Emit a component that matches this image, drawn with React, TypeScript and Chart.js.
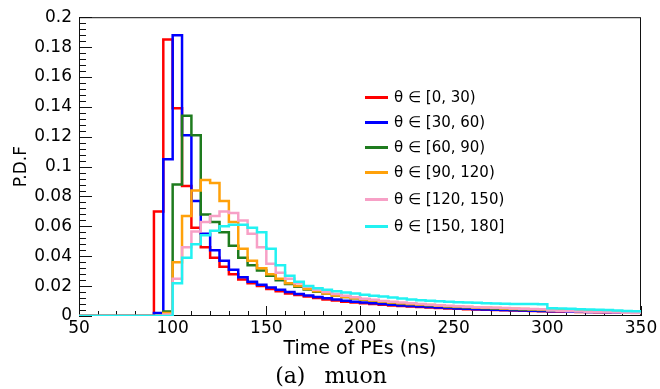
import React, { useEffect, useRef } from 'react';
import { Chart, registerables } from 'chart.js';

Chart.register(...registerables);

// Bin lower edges (ns), bin width 5 ns, histogram ends at 350 ns
const BIN_STARTS = [
  50, 55, 60, 65, 70, 75, 80, 85, 90, 95,
  100, 105, 110, 115, 120, 125, 130, 135, 140, 145,
  150, 155, 160, 165, 170, 175, 180, 185, 190, 195,
  200, 205, 210, 215, 220, 225, 230, 235, 240, 245,
  250, 255, 260, 265, 270, 275, 280, 285, 290, 295,
  300, 305, 310, 315, 320, 325, 330, 335, 340, 345,
];
const X_END = 350;

const X_TICKS = [50, 100, 150, 200, 250, 300, 350];

const LABELS = [
  'θ ∈ [0, 30)',
  'θ ∈ [30, 60)',
  'θ ∈ [60, 90)',
  'θ ∈ [90, 120)',
  'θ ∈ [120, 150)',
  'θ ∈ [150, 180]',
];

const COLORS = ['#ff0000', '#0000ff', '#1e7b1e', '#ffa10a', '#f7a0c6', '#22f2f2'];

const RED = [
  0, 0, 0, 0, 0, 0, 0, 0, 0.070, 0.185,
  0.139, 0.087, 0.059, 0.046, 0.039, 0.033, 0.028, 0.0245, 0.022, 0.020,
  0.018, 0.0165, 0.015, 0.014, 0.013, 0.012, 0.011, 0.0103, 0.0096, 0.009,
  0.0085, 0.008, 0.0075, 0.0071, 0.0067, 0.0063, 0.006, 0.0057, 0.0054, 0.0051,
  0.0049, 0.0046, 0.0044, 0.0042, 0.004, 0.0038, 0.0036, 0.0035, 0.0033, 0.0032,
  0.003, 0.0029, 0.0028, 0.0027, 0.0026, 0.0025, 0.0024, 0.0023, 0.0022, 0.0021,
];

const BLUE = [
  0, 0, 0, 0, 0, 0, 0, 0, 0.002, 0.105,
  0.188, 0.121, 0.077, 0.055, 0.044, 0.037, 0.031, 0.026, 0.023, 0.021,
  0.019, 0.0175, 0.016, 0.0148, 0.0137, 0.0127, 0.0118, 0.011, 0.0102, 0.0095,
  0.009, 0.0085, 0.008, 0.0075, 0.0071, 0.0067, 0.0063, 0.006, 0.0057, 0.0054,
  0.0051, 0.0049, 0.0046, 0.0044, 0.0042, 0.004, 0.0038, 0.0037, 0.0035, 0.0033,
  0.0032, 0.0031, 0.0029, 0.0028, 0.0027, 0.0026, 0.0025, 0.0024, 0.0023, 0.0022,
];

const GREEN = [
  0, 0, 0, 0, 0, 0, 0, 0, 0, 0.003,
  0.088, 0.134, 0.121, 0.068, 0.063, 0.056, 0.047, 0.039, 0.034, 0.0305,
  0.027, 0.024, 0.0215, 0.0195, 0.0178, 0.0163, 0.015, 0.0138, 0.0127, 0.0118,
  0.011, 0.0103, 0.0096, 0.009, 0.0085, 0.008, 0.0076, 0.0072, 0.0068, 0.0064,
  0.0061, 0.0058, 0.0055, 0.0052, 0.005, 0.0048, 0.0046, 0.0044, 0.0042, 0.004,
  0.0038, 0.0036, 0.0035, 0.0033, 0.0032, 0.003, 0.0029, 0.0028, 0.0027, 0.0026,
];

const ORANGE = [
  0, 0, 0, 0, 0, 0, 0, 0, 0, 0.002,
  0.036, 0.067, 0.084, 0.091, 0.089, 0.077, 0.063, 0.045, 0.037, 0.032,
  0.028, 0.025, 0.022, 0.020, 0.018, 0.0165, 0.015, 0.0138, 0.0128, 0.0119,
  0.011, 0.0103, 0.0097, 0.0091, 0.0086, 0.0081, 0.0077, 0.0073, 0.0069, 0.0066,
  0.0063, 0.006, 0.0057, 0.0055, 0.0053, 0.0051, 0.0049, 0.0047, 0.0045, 0.0043,
  0.0041, 0.0039, 0.0037, 0.0035, 0.0033, 0.0031, 0.003, 0.0028, 0.0027, 0.0026,
];

const PINK = [
  0, 0, 0, 0, 0, 0, 0, 0, 0, 0.001,
  0.025, 0.046, 0.0565, 0.063, 0.067, 0.070, 0.069, 0.064, 0.055, 0.046,
  0.035, 0.029, 0.025, 0.022, 0.0195, 0.0175, 0.016, 0.0147, 0.0136, 0.0126,
  0.0115, 0.0108, 0.0101, 0.0095, 0.009, 0.0085, 0.008, 0.0076, 0.0072, 0.0068,
  0.0065, 0.0062, 0.0059, 0.0057, 0.0055, 0.0053, 0.0051, 0.0049, 0.0047, 0.0045,
  0.0036, 0.0034, 0.0032, 0.003, 0.0028, 0.0026, 0.0025, 0.0023, 0.0022, 0.002,
];

const CYAN = [
  0, 0, 0, 0, 0, 0, 0, 0, 0, 0,
  0.022, 0.039, 0.048, 0.054, 0.057, 0.060, 0.061, 0.061, 0.059, 0.056,
  0.045, 0.034, 0.027, 0.023, 0.020, 0.0185, 0.0175, 0.0166, 0.0158, 0.015,
  0.0143, 0.0136, 0.013, 0.0123, 0.0117, 0.0111, 0.0106, 0.0102, 0.0098, 0.0095,
  0.0092, 0.009, 0.0088, 0.0086, 0.0084, 0.0082, 0.0081, 0.008, 0.008, 0.0079,
  0.0052, 0.005, 0.0048, 0.0046, 0.0044, 0.0042, 0.004, 0.0037, 0.0034, 0.0031,
];

const SERIES = [RED, BLUE, GREEN, ORANGE, PINK, CYAN];

// Each bin value is held from its lower edge to the next edge.
function toSteps(values: number[]) {
  const pts = BIN_STARTS.map((x, i) => ({ x, y: values[i] }));
  pts.push({ x: X_END, y: values[values.length - 1] });
  return pts;
}

const frameTicks = {
  id: 'frameTicks',
  beforeDatasetsDraw(chart: any) {
    const { ctx, chartArea, scales } = chart;
    const { left, right, top, bottom } = chartArea;
    const xs = scales.x;
    const ys = scales.y;
    ctx.save();
    ctx.strokeStyle = '#111';
    ctx.lineWidth = 1;
    ctx.beginPath();
    for (let i = 0; i <= 50; i++) {
      const v = i * 0.004;
      const py = Math.round(ys.getPixelForValue(v)) + 0.5;
      const len = i % 5 === 0 ? 13 : 7;
      ctx.moveTo(left, py);
      ctx.lineTo(left + len, py);
    }
    for (let v = 50; v <= 350; v += 10) {
      const px = Math.round(xs.getPixelForValue(v)) + 0.5;
      const len = v % 50 === 0 ? 10 : 5;
      ctx.moveTo(px, bottom);
      ctx.lineTo(px, bottom - len);
    }
    ctx.stroke();
    ctx.strokeRect(left + 0.5, top + 0.5, right - left - 1, bottom - top - 1);
    ctx.restore();
  },
};

export default function App() {
  const ref = useRef<HTMLCanvasElement | null>(null);

  useEffect(() => {
    if (!ref.current) return;
    const chart = new Chart(ref.current, {
      type: 'line',
      data: {
        datasets: SERIES.map((vals, i) => ({
          label: LABELS[i],
          data: toSteps(vals),
          borderColor: COLORS[i],
          backgroundColor: COLORS[i],
          borderWidth: 2.5,
          pointRadius: 0,
          stepped: 'before' as const,
          fill: false,
          order: SERIES.length - i,
        })),
      },
      options: {
        animation: false,
        responsive: false,
        devicePixelRatio: 1,
        layout: { padding: { left: 0, right: 19, top: 15, bottom: 0 } },
        plugins: {
          legend: { display: false },
          tooltip: { enabled: false },
        },
        scales: {
          x: {
            type: 'linear',
            min: 50,
            max: 350,
            afterFit: (s: any) => { s.height = 73; },
            afterBuildTicks: (s: any) => { s.ticks = X_TICKS.map((v) => ({ value: v })); },
            ticks: {
              padding: 2,
              color: '#000',
              maxRotation: 0,
              autoSkip: false,
              font: { family: '"DejaVu Sans"', size: 17 },
            },
            grid: { display: false, drawTicks: false },
            border: { display: false },
            title: {
              display: true,
              text: 'Time of PEs (ns)',
              color: '#000',
              font: { family: '"DejaVu Sans"', size: 19 },
              padding: { top: 0, bottom: 29 },
            },
          },
          y: {
            min: 0,
            max: 0.2,
            afterFit: (s: any) => { s.width = 79; },
            ticks: {
              stepSize: 0.02,
              padding: 7,
              color: '#000',
              font: { family: '"DejaVu Sans"', size: 17 },
              callback: (v: any) => String(Number(Number(v).toFixed(2))),
            },
            grid: { display: false, drawTicks: false },
            border: { display: false },
            title: {
              display: true,
              text: 'P.D.F',
              color: '#000',
              font: { family: '"DejaVu Sans"', size: 17 },
              padding: { top: 11, bottom: 0 },
            },
          },
        },
      },
      plugins: [frameTicks],
    });
    return () => chart.destroy();
  }, []);

  const rowTops = [97, 122, 147, 172, 199, 226];

  return (
    <div style={{ position: 'absolute', left: 0, top: 0, width: 660, height: 389, background: '#fff' }}>
      <canvas ref={ref} width={660} height={389} style={{ display: 'block' }} />
      {LABELS.map((lab, i) => (
        <div
          key={lab}
          style={{
            position: 'absolute',
            left: 365,
            top: rowTops[i] - 10,
            height: 20,
            display: 'flex',
            alignItems: 'center',
            font: '15px "DejaVu Sans"',
            color: '#000',
            whiteSpace: 'pre',
          }}
        >
          <span style={{ display: 'inline-block', width: 23, height: 3, background: COLORS[i], marginRight: 6 }} />
          <span>{lab}</span>
        </div>
      ))}
      <div
        style={{
          position: 'absolute',
          left: 0,
          width: 662,
          top: 363,
          textAlign: 'center',
          font: '22px "DejaVu Serif"',
          color: '#000',
          whiteSpace: 'pre',
          wordSpacing: 12,
        }}
      >
        (a) muon
      </div>
    </div>
  );
}
